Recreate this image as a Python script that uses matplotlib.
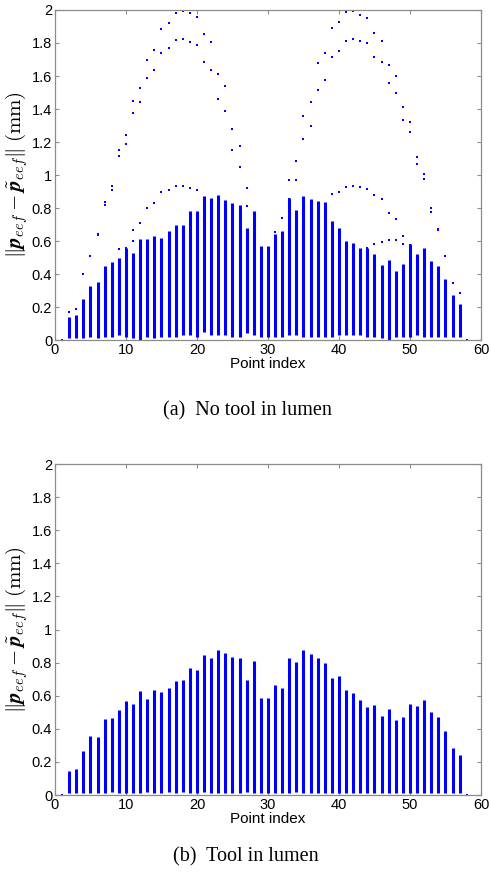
import matplotlib
matplotlib.use('Agg')
import matplotlib.pyplot as plt

plt.rcParams['font.family'] = ['Liberation Sans', 'DejaVu Sans']
plt.rcParams['mathtext.fontset'] = 'cm'

# point indices of the dense columns
cols = [2, 3, 4, 5, 6, 7, 8, 9, 10, 11, 12, 13, 14, 15, 16, 17, 18, 19, 20, 21,
        22, 23, 24, 25, 26, 27, 28, 29, 30, 31, 32, 33, 34, 35, 36, 37, 38, 39, 40,
        41, 42, 43, 44, 45, 46, 47, 48, 49, 50, 51, 52, 53, 54, 55, 56, 57]

# (a) no tool in lumen: column extent
a_top = [0.14, 0.15, 0.25, 0.33, 0.35, 0.45, 0.47, 0.50, 0.56, 0.53, 0.61, 0.61, 0.63,
         0.62, 0.66, 0.70, 0.70, 0.78, 0.78, 0.87, 0.86, 0.88, 0.85, 0.83, 0.82, 0.68,
         0.78, 0.57, 0.57, 0.64, 0.66, 0.86, 0.79, 0.87, 0.855, 0.845, 0.836, 0.72, 0.68,
         0.60, 0.59, 0.556, 0.556, 0.52, 0.455, 0.485, 0.42, 0.46, 0.58, 0.52, 0.556,
         0.48, 0.45, 0.37, 0.27, 0.22]
a_bot = [0.01, 0.01, 0.01, 0.02, 0.01, 0.02, 0.02, 0.03, 0.02, 0.01, 0.0, 0.02, 0.01,
         0.02, 0.02, 0.02, 0.03, 0.03, 0.02, 0.05, 0.03, 0.03, 0.03, 0.02, 0.02, 0.04,
         0.03, 0.02, 0.02, 0.02, 0.02, 0.03, 0.03, 0.02, 0.02, 0.02, 0.02, 0.02, 0.03,
         0.03, 0.03, 0.03, 0.02, 0.02, 0.01, 0.0, 0.02, 0.02, 0.02, 0.03, 0.02, 0.02,
         0.02, 0.02, 0.02, 0.02]

# (a) outlying points: outer track, second track, inner bumps
outer_x = [4, 5, 6, 7, 8, 9, 10, 11, 12, 13, 14, 15, 16, 17, 18, 19, 20, 21, 22, 23,
           24, 25, 26, 27, 33, 34, 35, 36, 37, 38, 39, 40, 41, 42, 43, 44, 45, 46, 47,
           48, 49, 50, 51, 52, 53, 54, 55, 56, 57, 58]
outer_y = [0.40, 0.51, 0.645, 0.838, 0.936, 1.154, 1.24, 1.45, 1.527, 1.696, 1.758,
           1.883, 1.923, 1.984, 1.996, 1.98, 1.96, 1.857, 1.806, 1.612, 1.539, 1.281,
           1.178, 0.92, 0.971, 1.086, 1.357, 1.444, 1.678, 1.742, 1.891, 1.927, 1.99,
           1.996, 1.972, 1.95, 1.859, 1.813, 1.664, 1.597, 1.41, 1.323, 1.112, 1.009,
           0.80, 0.675, 0.51, 0.345, 0.285, 0.0]
second_x = [6, 7, 8, 9, 10, 11, 12, 13, 14, 15, 16, 17, 18, 19, 20, 21, 22, 23, 24, 25,
            26, 27, 33, 34, 35, 36, 37, 38, 39, 40, 41, 42, 43, 44, 45, 46, 47, 48, 49,
            50, 51, 52, 53, 54]
second_y = [0.635, 0.82, 0.912, 1.114, 1.19, 1.376, 1.44, 1.589, 1.637, 1.742, 1.772,
            1.819, 1.827, 1.805, 1.785, 1.684, 1.636, 1.459, 1.386, 1.152, 1.05, 0.814,
            0.856, 0.971, 1.217, 1.297, 1.515, 1.575, 1.718, 1.754, 1.815, 1.823, 1.81,
            1.797, 1.718, 1.682, 1.557, 1.50, 1.335, 1.26, 1.067, 0.975, 0.777, 0.668]
inner_x = [1, 2, 3, 9, 10, 11, 11, 12, 13, 14, 15, 16, 17, 18, 19, 20, 31, 32, 39, 40,
           41, 42, 43, 44, 45, 46, 47, 48, 49, 44, 45, 46, 47, 48, 49, 50]
inner_y = [0.0, 0.17, 0.19, 0.55, 0.56, 0.60, 0.667, 0.707, 0.80, 0.83, 0.896, 0.912,
           0.932, 0.932, 0.922, 0.908, 0.657, 0.74, 0.886, 0.90, 0.926, 0.932, 0.926,
           0.916, 0.876, 0.852, 0.771, 0.735, 0.628, 0.556, 0.584, 0.594, 0.606, 0.604,
           0.584, 0.576]

# (b) tool in lumen
b_top = [0.147, 0.16, 0.267, 0.356, 0.348, 0.458, 0.466, 0.513, 0.569, 0.547, 0.627,
         0.579, 0.637, 0.623, 0.649, 0.689, 0.697, 0.768, 0.758, 0.844, 0.826, 0.878,
         0.858, 0.834, 0.83, 0.693, 0.808, 0.589, 0.589, 0.667, 0.649, 0.826, 0.802,
         0.874, 0.854, 0.83, 0.798, 0.71, 0.718, 0.637, 0.617, 0.577, 0.533, 0.541,
         0.48, 0.517, 0.452, 0.472, 0.549, 0.539, 0.573, 0.5, 0.474, 0.384, 0.287, 0.239]
b_bot = [0.01, 0.01, 0.01, 0.01, 0.01, 0.01, 0.02, 0.01, 0.01, 0.01, 0.01, 0.02, 0.01,
         0.01, 0.02, 0.01, 0.02, 0.01, 0.01, 0.02, 0.01, 0.01, 0.01, 0.01, 0.01, 0.02,
         0.01, 0.01, 0.01, 0.01, 0.01, 0.01, 0.02, 0.01, 0.01, 0.01, 0.01, 0.01, 0.01,
         0.01, 0.01, 0.01, 0.01, 0.01, 0.01, 0.01, 0.01, 0.01, 0.01, 0.01, 0.01, 0.01,
         0.01, 0.01, 0.01, 0.01]
b_single_x = [1, 58]
b_single_y = [0.0, 0.0]

yticks = [0, 0.2, 0.4, 0.6, 0.8, 1, 1.2, 1.4, 1.6, 1.8, 2]
yticklabels = ['0', '0.2', '0.4', '0.6', '0.8', '1', '1.2', '1.4', '1.6', '1.8', '2']
xticks = [0, 10, 20, 30, 40, 50, 60]

blue = '#0000ff'
gray = '#8c8c8c'
ylab = r'$\|\boldsymbol{p}_{eef}-\tilde{\boldsymbol{p}}_{eef}\|\;(\mathrm{mm})$'

fig = plt.figure(figsize=(4.91, 8.77), dpi=100)
ax1 = fig.add_axes([0.112, 0.6123, 0.8676, 0.3763])
ax2 = fig.add_axes([0.112, 0.0935, 0.8676, 0.3774])


def style(ax):
    ax.set_xlim(0, 60)
    ax.set_ylim(0, 2)
    ax.set_xticks(xticks)
    ax.set_yticks(yticks)
    ax.set_yticklabels(yticklabels)
    ax.tick_params(direction='in', top=True, right=True, color=gray,
                   labelsize=10.5, length=3, pad=2)
    for s in ax.spines.values():
        s.set_color(gray)
        s.set_linewidth(0.9)
    ax.set_xlabel('Point index', fontsize=11, labelpad=0)
    ax.set_ylabel(ylab, fontsize=15, labelpad=1)


# (a)
ax1.vlines(cols, a_bot, a_top, colors=blue, lw=2.2)
ax1.scatter(outer_x, outer_y, s=4.5, c=blue, marker='s', linewidths=0)
ax1.scatter(second_x, second_y, s=4.5, c=blue, marker='s', linewidths=0)
ax1.scatter(inner_x, inner_y, s=4.5, c=blue, marker='s', linewidths=0)
style(ax1)

# (b)
ax2.vlines(cols, b_bot, b_top, colors=blue, lw=2.2)
ax2.scatter(b_single_x, b_single_y, s=4.5, c=blue, marker='s', linewidths=0)
style(ax2)

fig.text(0.503, 0.531, '(a)  No tool in lumen', ha='center', va='center',
         fontsize=14.5, family='Liberation Serif')
fig.text(0.5, 0.023, '(b)  Tool in lumen', ha='center', va='center',
         fontsize=14.5, family='Liberation Serif')

fig.savefig('out.png', dpi=100)
